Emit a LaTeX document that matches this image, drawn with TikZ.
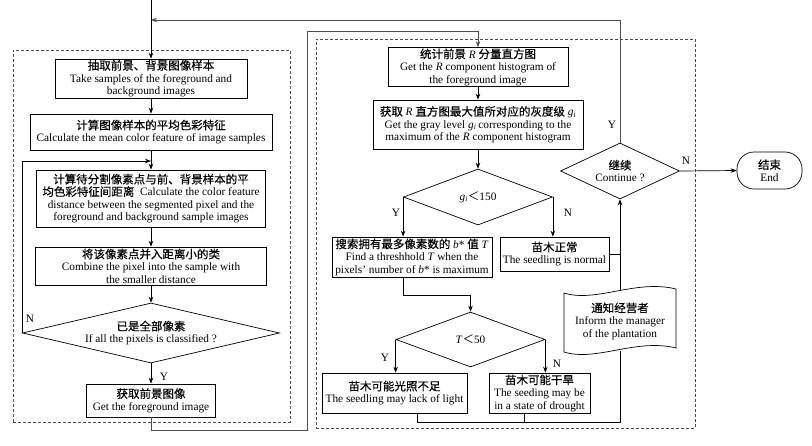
\documentclass[tikz,border=0pt]{standalone}
\usepackage{fontspec}
\setmainfont{Liberation Serif}
\newfontfamily\cjk[FakeBold=0.4]{Noto Sans CJK SC}
\newfontfamily\cjklt{Noto Sans CJK SC}
\usetikzlibrary{shapes.geometric,arrows.meta}
\newcommand\zh[1]{{\cjk\fontsize{11.5}{12.5}\selectfont #1}}
\newcommand\lessthan{{\cjklt\fontsize{11.5}{12.5}\selectfont ＜}}
\newcommand\gi{\textit{g}\textsubscript{\textit{i}}}
\begin{document}
\begin{tikzpicture}[x=1pt,y=-1pt,
  box/.style={draw, line width=0.7pt, align=center, inner sep=1pt, font=\fontsize{11.3}{12.4}\selectfont},
  dia/.style={draw, diamond, line width=0.7pt, align=center, inner sep=0pt, font=\fontsize{11.3}{12.4}\selectfont},
  arr/.style={-{Stealth[length=6pt,width=4.5pt]}, line width=0.7pt},
  ln/.style={line width=0.7pt},
  loopln/.style={line width=1pt, draw=black!70},
  lab/.style={font=\fontsize{11.3}{12.4}\selectfont, inner sep=0pt},
  frame/.style={draw=black!70, dash pattern=on 3pt off 2pt, line width=0.6pt}
]
\useasboundingbox (0,0) rectangle (812,445);
% frames
\node[frame, minimum width=277, minimum height=372, inner sep=0pt] (fl) at (151.5,236) {};
\node[frame, minimum width=379, minimum height=389, inner sep=0pt] (fr) at (505.5,233.5) {};
% left column
\node[box, minimum width=192, minimum height=39] (b1) at (151,78.5) {\zh{抽取前景、背景图像样本}\\Take samples of the foreground and\\background images};
\node[box, minimum width=242, minimum height=36] (b2) at (151,132) {\zh{计算图像样本的平均色彩特征}\\Calculate the mean color feature of image samples};
\node[box, minimum width=229, minimum height=57] (b3) at (151,198.5) {\zh{计算待分割像素点与前、背景样本的平}\\\zh{均色彩特征间距离}\ \ Calculate the color feature\\distance between the segmented pixel and the\\foreground and background sample images};
\node[box, minimum width=231, minimum height=38] (b4) at (151,266) {\zh{将该像素点并入距离小的类}\\Combine the pixel into the sample with\\the smaller distance};
\node[dia, aspect=4.3, minimum width=257, minimum height=60] (d1) at (151,333) {\zh{已是全部像素}\\If all the pixels is classified ?};
\node[box, minimum width=129, minimum height=33] (b5) at (151,400.5) {\zh{获取前景图像}\\Get the foreground image};
% right column
\node[box, minimum width=180, minimum height=38] (rb1) at (478,67) {\zh{统计前景} \textit{R} \zh{分量直方图}\\Get the \textit{R} component histogram of\\the foreground image};
\node[box, minimum width=210, minimum height=49] (rb2) at (478,124.5) {\zh{获取} \textit{R} \zh{直方图最大值所对应的灰度级} \gi\\Get the gray level \gi\,corresponding to the\\maximum of the \textit{R} component histogram};
\node[dia, aspect=2.66, minimum width=149, minimum height=56] (dg) at (478,197) {\gi\lessthan 150};
\node[box, minimum width=160, minimum height=40] (rb3) at (412,257) {\zh{搜索拥有最多像素数的} \textit{b}* \zh{值} \textit{T}\\Find a threshhold \textit{T} when the\\pixels' number of \textit{b}* is maximum};
\node[box, minimum width=109, minimum height=34] (rb4) at (554.5,254) {\zh{苗木正常}\\The seedling is normal};
\node[dia, aspect=2.7, minimum width=149, minimum height=55] (dt) at (470.5,339.5) {\textit{T}\lessthan 50};
\node[box, minimum width=145, minimum height=40] (rb5) at (394.5,393) {\zh{苗木可能光照不足}\\The seedling may lack of light};
\node[box, minimum width=101, minimum height=40] (rb6) at (539.5,393) {\zh{苗木可能干旱}\\The seeding may be\\in a state of drought};
\node[lab, minimum width=112, minimum height=60, align=center] (doc) at (620,321) {\zh{通知经营者}\\Inform the manager\\of the plantation};
\draw[line width=0.7pt] (564,293) .. controls (596,303) and (636,279) .. (676,289) -- (676,348) .. controls (636,338) and (596,362) .. (564,352) -- cycle;
\node[dia, aspect=2.1, minimum width=119, minimum height=56] (dc) at (620,171) {\zh{继续}\\Continue ?};
\node[box, rounded corners=17, minimum width=65, minimum height=37] (end) at (769.5,170.5) {\zh{结束}\\End};
% coordinates
\coordinate (top) at (151,0);
\coordinate (j1) at (151,161);
\coordinate (c1) at (151,430);
\coordinate (c2) at (307,430);
\coordinate (c3) at (307,31);
\coordinate (c4) at (478,31);
\coordinate (c5) at (403.5,295);
\coordinate (c6) at (470.5,295);
\coordinate (c7) at (417,422);
\coordinate (c8) at (524,422);
\coordinate (c9) at (620,422);
\coordinate (c10) at (620,20);
\coordinate (c11) at (151,20);
% left connectors
\draw[arr] (top) -- (b1.north);
\draw[arr] (b1.south) -- (b2.north);
\draw[arr] (b2.south) -- (b3.north);
\draw[arr] (b3.south) -- (b4.north);
\draw[arr] (b4.south) -- (d1.north);
\draw[arr] (d1.west) |- (j1);
\draw[arr] (d1.south) -- (b5.north);
\node[lab] (ln1) at (30,319) {N};
\node[lab] (ly1) at (164,377) {Y};
\draw[-{Stealth[length=6pt,width=4.5pt]}, loopln] (b5.south) -- (c1) -- (c2) -- (c3) -- (c4) -- (rb1.north);
% right connectors
\draw[arr] (rb1.south) -- (rb2.north);
\draw[arr] (rb2.south) -- (dg.north);
\draw[arr] (dg.west) -- (dg.west |- rb3.north);
\draw[arr] (dg.east) -- (dg.east |- rb4.north);
\node[lab] (ly2) at (396,213) {Y};
\node[lab] (ln2) at (568,213) {N};
\draw[arr] (c5 |- rb3.south) -- (c5) -- (c6) -- (dt.north);
\draw[arr] (dt.west) -- (dt.west |- rb5.north);
\draw[arr] (dt.east) -- (dt.east |- rb6.north);
\node[lab] (ly3) at (385,358) {Y};
\node[lab] (ln3) at (557,364) {N};
\draw[ln] (c7 |- rb5.south) -- (c7) -- (c9) -- (doc.south);
\draw[ln] (c8 |- rb6.south) -- (c8);
\draw[arr] (doc.north) -- (dc.south);
\draw[ln] (rb4.east) -- (rb4.east -| dc.south);
\draw[-{Stealth[length=6pt,width=4.5pt]}, loopln] (dc.north) -- (c10) -- (c11);
\node[lab] (ly4) at (612,125) {Y};
\node[lab] (ln4) at (686,161) {N};
\draw[arr] (dc.east) -- (end.west);
\end{tikzpicture}
\end{document}
